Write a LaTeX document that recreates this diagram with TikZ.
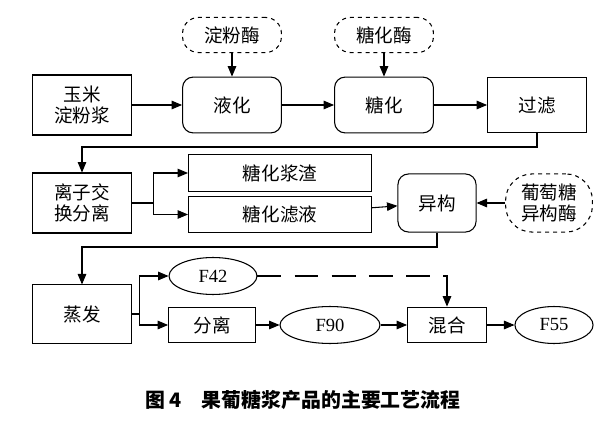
\documentclass[tikz,border=0pt]{standalone}
\usepackage{fontspec}
\setmainfont{Liberation Serif}
\newfontfamily\cjk{Noto Sans CJK SC}
\usetikzlibrary{arrows,shapes.geometric}
\tikzset{font={\cjk\fontsize{14pt}{16}\selectfont}}

\begin{document}
\begin{tikzpicture}[x=0.0265cm,y=-0.0265cm,->,>=triangle 45,thick,
                    box/.style={draw,-,inner sep=0pt,align=center},
                    process/.style={box,rounded corners=8pt},
                    enzyme/.style={box,dashed,rounded corners=12pt},
                    product/.style={draw,-,ellipse,inner sep=0pt,font={\fontsize{14pt}{16}\selectfont}}]
  \useasboundingbox (0,0) rectangle (607,424);

  \node[enzyme,minimum width=2.62cm,minimum height=0.93cm] (amylase) at (232,35) {淀粉酶};
  \node[enzyme,minimum width=2.62cm,minimum height=0.93cm] (glucoamylase) at (384,35) {糖化酶};
  \node[box,minimum width=2.6cm,minimum height=1.59cm] (slurry) at (82,105) {玉米\\淀粉浆};
  \node[process,minimum width=2.62cm,minimum height=1.48cm] (liquefy) at (232,105) {液化};
  \node[process,minimum width=2.62cm,minimum height=1.48cm] (saccharify) at (384,105) {糖化};
  \node[box,minimum width=2.62cm,minimum height=1.48cm] (filter) at (537,105) {过滤};

  \node[box,minimum width=2.6cm,minimum height=1.59cm] (ionex) at (82,203) {离子交\\换分离};
  \node[box,minimum width=4.85cm,minimum height=0.98cm] (residue) at (280,173) {糖化浆渣};
  \node[box,minimum width=4.85cm,minimum height=0.95cm] (filtrate) at (280,214.5) {糖化滤液};
  \node[process,minimum width=2.07cm,minimum height=1.54cm] (isomer) at (437,203) {异构};
  \node[enzyme,rounded corners=0.7cm,minimum width=2.3cm,minimum height=1.54cm] (isomerase) at (549,203) {葡萄糖\\异构酶};

  \node[box,minimum width=2.6cm,minimum height=1.54cm] (evap) at (82,314) {蒸发};
  \node[product,minimum width=2.33cm,minimum height=0.98cm] (f42) at (213,276) {F42};
  \node[box,minimum width=2.3cm,minimum height=0.95cm] (separate) at (212,325) {分离};
  \node[product,minimum width=2.65cm,minimum height=0.98cm] (f90) at (330,325) {F90};
  \node[box,minimum width=2.09cm,minimum height=0.95cm] (mix) at (447,325) {混合};
  \node[product,minimum width=2.07cm,minimum height=0.98cm] (f55) at (554,325) {F55};

  \node[font={\cjk\bfseries\fontsize{15pt}{17}\selectfont}] (caption) at (303,400) {图 4\quad 果葡糖浆产品的主要工艺流程};

  % connectors
  \draw (amylase) -- (liquefy);
  \draw (glucoamylase) -- (saccharify);
  \draw (slurry) -- (liquefy);
  \draw (liquefy) -- (saccharify);
  \draw (saccharify) -- (filter);
  \draw (filter.south) |- (82,147) -- (ionex.north);
  \draw (ionex.east) -- ++(22,0) |- (residue.west);
  \draw (ionex.east) -- ++(22,0) |- (filtrate.west);
  \draw (filtrate) -- (isomer);
  \draw (isomerase) -- (isomer);
  \draw (isomer.south) |- (82,247) -- (evap.north);
  \draw (evap.east) -- ++(8,0) |- (f42.west);
  \draw (evap.east) -- ++(8,0) |- (separate.west);
  \draw (separate) -- (f90);
  \draw (f90) -- (mix);
  \draw (mix) -- (f55);
  \draw[dash pattern=on 18pt off 10pt] (f42.east) -| (mix.north);
\end{tikzpicture}
\end{document}
